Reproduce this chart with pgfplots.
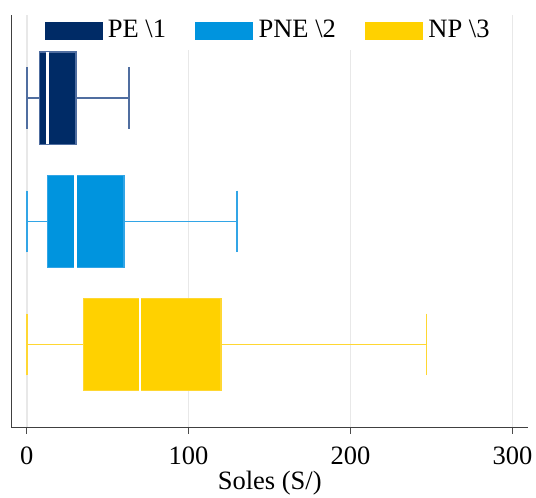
\documentclass[border=0pt]{standalone}
\usepackage{fontspec}
\setmainfont{Liberation Serif}
\usepackage{pgfplots}
\pgfplotsset{compat=1.18}
\usepgfplotslibrary{statistics}
\definecolor{cPE}{RGB}{0,43,102}
\definecolor{cPEw}{RGB}{80,110,160}
\definecolor{cPNE}{RGB}{0,148,222}
\definecolor{cPNEw}{RGB}{50,165,230}
\definecolor{cNP}{RGB}{255,209,0}
\definecolor{cNPw}{RGB}{255,215,50}
\definecolor{gridc}{RGB}{232,232,232}
\begin{document}
\begin{tikzpicture}
\begin{axis}[
  scale only axis, width=194.7pt, height=155.6pt,
  xmin=-9.3, xmax=309.5, ymin=0.325, ymax=3.675,
  axis x line*=bottom, axis y line*=left,
  axis line style={draw=black!75, line width=0.5pt, -},
  ytick=\empty, xtick={0,100,200,300},
  tick align=outside, major tick length=2.3pt,
  tick style={draw=black!70, line width=0.5pt},
  /pgf/number format/assume math mode=true,
  xticklabel style={yshift=-1.5pt},
  xmajorgrids, grid style={draw=gridc, line width=0.6pt},
  xlabel={Soles (S/)},
  xlabel style={yshift=4.5pt},
  legend style={at={(0.5,1)}, anchor=north, yshift=1.2pt, legend columns=3, draw=none,
    fill=white, inner sep=1pt, font=\normalsize,
    /tikz/every even column/.append style={column sep=9pt}},
  legend cell align=left,
]
\addlegendimage{legend image code/.code={\fill[cPE] (0pt,-3.2pt) rectangle (21.5pt,3.2pt);}}
\addlegendentry{PE \textbackslash 1}
\addlegendimage{legend image code/.code={\fill[cPNE] (0pt,-3.2pt) rectangle (21.5pt,3.2pt);}}
\addlegendentry{PNE \textbackslash 2}
\addlegendimage{legend image code/.code={\fill[cNP] (0pt,-3.2pt) rectangle (21.5pt,3.2pt);}}
\addlegendentry{NP \textbackslash 3}

\addplot[forget plot, mark=none, draw=cPEw, fill=cPE, line width=0.5pt,
  boxplot prepared={draw position=3, lower whisker=0, lower quartile=8,
    median=13, upper quartile=30.5, upper whisker=63,
    box extend=0.75, whisker extend=0.5,
    every whisker/.style={draw=cPEw, line width=0.6pt},
    every median/.style={draw=white, line width=1pt}}]
  coordinates {};
\addplot[forget plot, mark=none, draw=cPNEw, fill=cPNE, line width=0.5pt,
  boxplot prepared={draw position=2, lower whisker=0, lower quartile=13,
    median=30, upper quartile=60, upper whisker=130,
    box extend=0.75, whisker extend=0.5,
    every whisker/.style={draw=cPNEw, line width=0.6pt},
    every median/.style={draw=white, line width=1pt}}]
  coordinates {};
\addplot[forget plot, mark=none, draw=cNPw, fill=cNP, line width=0.5pt,
  boxplot prepared={draw position=1, lower whisker=0, lower quartile=35,
    median=70, upper quartile=120, upper whisker=247,
    box extend=0.75, whisker extend=0.5,
    every whisker/.style={draw=cNPw, line width=0.6pt},
    every median/.style={draw=white, line width=1pt}}]
  coordinates {};
\end{axis}
\pgfresetboundingbox
\path ([xshift=-4.4pt,yshift=5.7pt]current axis.north west) rectangle ([xshift=3.1pt,yshift=-26.3pt]current axis.south east);
\end{tikzpicture}
\end{document}
